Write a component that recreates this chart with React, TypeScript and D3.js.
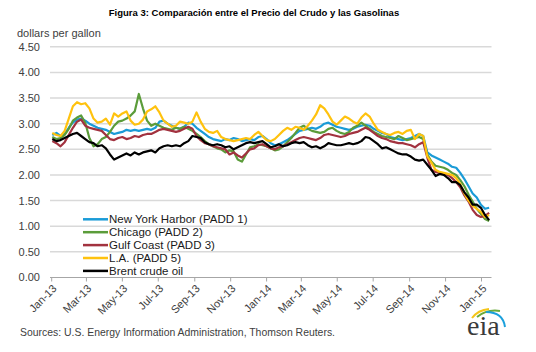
import React, { useEffect, useRef } from 'react';
import * as d3 from 'd3';

// weekly spot prices, dollars per gallon, starting Jan 2 2013
const nyHarbor = [
  2.78, 2.82, 2.76, 2.80, 2.92, 3.02, 3.08, 3.10, 3.06, 3.00, 2.96, 2.92, 2.90, 2.88, 2.84, 2.80, 2.82, 2.84, 2.88, 2.86,
  2.88, 2.86, 2.88, 2.90, 2.88, 2.92, 3.04, 3.06, 3.00, 2.96, 2.92, 2.90, 2.94, 3.02, 3.00, 2.92, 2.86, 2.80, 2.74, 2.70,
  2.68, 2.66, 2.70, 2.68, 2.72, 2.70, 2.66, 2.68, 2.70, 2.68, 2.74, 2.76, 2.70, 2.62, 2.58, 2.60, 2.64, 2.68, 2.74, 2.80,
  2.86, 2.88, 2.90, 2.92, 2.90, 2.94, 3.00, 3.02, 2.98, 2.94, 2.92, 2.90, 2.88, 2.90, 2.94, 2.96, 2.98, 2.96, 2.90, 2.86,
  2.82, 2.80, 2.74, 2.72, 2.70, 2.68, 2.70, 2.72, 2.76, 2.80, 2.76, 2.44, 2.38, 2.34, 2.30, 2.26, 2.22, 2.16, 2.14, 2.04,
  1.92, 1.78, 1.64, 1.56, 1.42, 1.34, 1.36,
];
const chicago = [
  2.74, 2.70, 2.72, 2.78, 2.90, 3.06, 3.12, 3.16, 3.02, 2.72, 2.56, 2.60, 2.70, 2.74, 2.84, 2.96, 3.04, 3.06, 3.10, 3.16,
  3.24, 3.58, 3.30, 3.06, 2.96, 3.00, 2.96, 2.92, 2.90, 2.88, 2.92, 2.90, 2.94, 2.90, 2.86, 2.80, 2.74, 2.66, 2.60, 2.56,
  2.52, 2.50, 2.44, 2.48, 2.46, 2.30, 2.26, 2.40, 2.54, 2.56, 2.60, 2.58, 2.56, 2.52, 2.48, 2.50, 2.56, 2.64, 2.72, 2.82,
  2.92, 2.96, 2.90, 2.86, 2.84, 2.82, 2.84, 2.90, 2.92, 2.86, 2.82, 2.80, 2.84, 2.92, 2.96, 3.02, 2.96, 2.90, 2.84, 2.80,
  2.76, 2.74, 2.72, 2.70, 2.76, 2.72, 2.68, 2.70, 2.72, 2.74, 2.70, 2.40, 2.26, 2.18, 2.16, 2.14, 2.10, 2.04, 2.00, 1.90,
  1.78, 1.62, 1.48, 1.34, 1.24, 1.14, 1.10,
];
const gulfCoast = [
  2.66, 2.62, 2.56, 2.64, 2.78, 2.92, 3.04, 3.08, 2.96, 2.92, 2.90, 2.88, 2.86, 2.78, 2.70, 2.68, 2.72, 2.74, 2.70, 2.72,
  2.76, 2.74, 2.78, 2.80, 2.80, 2.84, 2.88, 2.90, 2.88, 2.86, 2.84, 2.86, 2.90, 2.94, 2.90, 2.76, 2.68, 2.62, 2.60, 2.56,
  2.54, 2.52, 2.50, 2.40, 2.44, 2.38, 2.34, 2.42, 2.50, 2.52, 2.58, 2.60, 2.56, 2.52, 2.50, 2.54, 2.56, 2.60, 2.64, 2.68,
  2.72, 2.74, 2.72, 2.70, 2.68, 2.72, 2.78, 2.80, 2.78, 2.76, 2.74, 2.76, 2.80, 2.82, 2.84, 2.88, 2.92, 2.88, 2.82, 2.76,
  2.72, 2.70, 2.66, 2.64, 2.62, 2.62, 2.60, 2.58, 2.54, 2.60, 2.64, 2.34, 2.10, 2.06, 2.04, 2.02, 2.00, 1.94, 1.86, 1.76,
  1.60, 1.48, 1.32, 1.22, 1.18, 1.20, 1.26,
];
const losAngeles = [
  2.82, 2.78, 2.76, 2.86, 3.10, 3.34, 3.42, 3.38, 3.40, 3.30, 3.10, 3.02, 3.04, 3.10, 2.98, 3.20, 3.14, 3.20, 3.24, 3.06,
  2.98, 3.00, 3.08, 3.24, 3.28, 3.34, 3.22, 3.06, 3.00, 2.94, 2.96, 3.04, 3.02, 3.00, 3.04, 3.22, 3.04, 2.90, 2.84, 2.82,
  2.86, 2.74, 2.70, 2.68, 2.66, 2.68, 2.70, 2.72, 2.70, 2.78, 2.84, 2.76, 2.68, 2.66, 2.70, 2.78, 2.86, 2.92, 2.88, 2.94,
  2.92, 2.88, 2.96, 3.06, 3.18, 3.36, 3.30, 3.18, 3.04, 2.98, 3.06, 3.14, 3.10, 3.04, 3.00, 3.12, 3.20, 3.14, 3.00, 2.88,
  2.84, 2.80, 2.78, 2.82, 2.84, 2.80, 2.86, 2.88, 2.70, 2.80, 2.76, 2.36, 2.24, 2.10, 2.06, 2.04, 2.02, 2.00, 1.94, 1.82,
  1.64, 1.50, 1.40, 1.34, 1.28, 1.18, 1.22,
];
const brent = [
  2.70, 2.66, 2.68, 2.72, 2.76, 2.80, 2.82, 2.76, 2.70, 2.64, 2.62, 2.56, 2.58, 2.52, 2.40, 2.30, 2.34, 2.38, 2.42, 2.38,
  2.44, 2.40, 2.44, 2.46, 2.48, 2.44, 2.52, 2.56, 2.58, 2.56, 2.58, 2.56, 2.62, 2.66, 2.76, 2.74, 2.72, 2.64, 2.60, 2.58,
  2.60, 2.58, 2.54, 2.56, 2.50, 2.54, 2.58, 2.62, 2.64, 2.62, 2.64, 2.66, 2.60, 2.54, 2.56, 2.60, 2.56, 2.58, 2.62, 2.64,
  2.62, 2.64, 2.58, 2.54, 2.56, 2.52, 2.56, 2.62, 2.60, 2.58, 2.58, 2.60, 2.62, 2.60, 2.62, 2.66, 2.74, 2.72, 2.66, 2.60,
  2.52, 2.54, 2.50, 2.46, 2.42, 2.40, 2.40, 2.36, 2.30, 2.28, 2.30, 2.20, 2.10, 1.98, 2.02, 2.00, 1.94, 1.86, 1.86, 1.80,
  1.66, 1.56, 1.42, 1.42, 1.36, 1.22, 1.12,
];

const seriesNames = ['New York Harbor (PADD 1)', 'Chicago (PADD 2)', 'Gulf Coast (PADD 3)', 'L.A. (PADD 5)', 'Brent crude oil'];
const seriesColors = ['#1a9bd7', '#5b9c3a', '#a2323f', '#ffc20e', '#000000'];
const yTicks = [0, 0.5, 1, 1.5, 2, 2.5, 3, 3.5, 4, 4.5];

const FONT = '"Liberation Sans", Arial, sans-serif';
const TEXT = '#404040';

const App = () => {
  const chartRef = useRef(null);

  useEffect(() => {
    const width = 536;
    const height = 352;
    const left = 50;
    const right = 491.5;

    const allSeries = [nyHarbor, chicago, gulfCoast, losAngeles, brent];
    const start = new Date(2013, 0, 2);
    const dates = nyHarbor.map((_, i) => d3.timeDay.offset(start, i * 7));

    const x = d3.scaleTime()
      .domain([new Date(2013, 0, 1), new Date(2015, 0, 18)])
      .range([51.7, right]);
    const y = d3.scaleLinear().domain([0, 4.5]).range([277.5, 46.8]);

    const svg = d3.select(chartRef.current)
      .append('svg')
      .attr('width', width)
      .attr('height', height)
      .style('position', 'absolute')
      .style('left', 0)
      .style('top', 0)
      .style('background', '#fff');

    // title
    svg.append('text')
      .attr('x', 254)
      .attr('y', 16)
      .attr('text-anchor', 'middle')
      .style('font-family', FONT)
      .style('font-size', '9.5px')
      .style('font-weight', 'bold')
      .attr('fill', '#000')
      .text('Figura 3: Comparación entre el Precio del Crudo y las Gasolinas');

    svg.append('text')
      .attr('x', 17)
      .attr('y', 37)
      .style('font-family', FONT)
      .style('font-size', '11px')
      .attr('fill', TEXT)
      .text('dollars per gallon');

    // gridlines + y labels
    svg.append('g')
      .selectAll('line')
      .data(yTicks.filter(d => d > 0))
      .join('line')
      .attr('x1', left)
      .attr('x2', right)
      .attr('y1', d => y(d))
      .attr('y2', d => y(d))
      .attr('stroke', '#d9d9d9')
      .attr('stroke-width', 1.5);

    svg.append('g')
      .selectAll('text')
      .data(yTicks)
      .join('text')
      .attr('x', 40)
      .attr('y', d => y(d))
      .attr('dy', '0.36em')
      .attr('text-anchor', 'end')
      .style('font-family', FONT)
      .style('font-size', '11px')
      .attr('fill', TEXT)
      .text(d => d3.format('.2f')(d));

    // x axis
    svg.append('line')
      .attr('x1', left)
      .attr('x2', right)
      .attr('y1', y(0))
      .attr('y2', y(0))
      .attr('stroke', '#a6a6a6')
      .attr('stroke-width', 1);

    const xTicks = d3.timeMonth.every(2).range(new Date(2013, 0, 1), new Date(2015, 0, 2));
    const fmt = d3.timeFormat('%b-%y');
    const tg = svg.append('g')
      .selectAll('g')
      .data(xTicks)
      .join('g')
      .attr('transform', d => `translate(${x(d)},${y(0)})`);
    tg.append('line')
      .attr('y2', 4)
      .attr('stroke', '#a6a6a6');
    tg.append('text')
      .attr('transform', 'translate(3,9) rotate(-45)')
      .attr('text-anchor', 'end')
      .attr('dy', '0.35em')
      .style('font-family', FONT)
      .style('font-size', '11px')
      .attr('fill', TEXT)
      .text(d => fmt(d));

    // lines
    const line = d3.line()
      .x((d, i) => x(dates[i]))
      .y(d => y(d));

    svg.append('g')
      .selectAll('path')
      .data(allSeries)
      .join('path')
      .attr('d', d => line(d))
      .attr('fill', 'none')
      .attr('stroke', (d, i) => seriesColors[i])
      .attr('stroke-width', 2.2)
      .attr('stroke-linejoin', 'round');

    // legend
    const lg = svg.append('g')
      .selectAll('g')
      .data(seriesNames)
      .join('g')
      .attr('transform', (d, i) => `translate(83,${219.3 + i * 12.9})`);
    lg.append('line')
      .attr('x2', 25)
      .attr('stroke', (d, i) => seriesColors[i])
      .attr('stroke-width', 2.5);
    lg.append('text')
      .attr('x', 26)
      .attr('dy', '0.36em')
      .style('font-family', FONT)
      .style('font-size', '11.5px')
      .attr('fill', '#1a1a1a')
      .text(d => d);

    // source
    svg.append('text')
      .attr('x', 20)
      .attr('y', 336)
      .attr('textLength', 315)
      .attr('lengthAdjust', 'spacingAndGlyphs')
      .style('font-family', FONT)
      .style('font-size', '11px')
      .attr('fill', TEXT)
      .text('Sources: U.S. Energy Information Administration, Thomson Reuters.');

    // eia logo
    const logo = svg.append('g');
    logo.append('path')
      .attr('d', 'M472,318 Q478,310 489,309')
      .attr('fill', 'none')
      .attr('stroke', '#f5c518')
      .attr('stroke-width', 2);
    logo.append('path')
      .attr('d', 'M477,317 Q487,309 500,311')
      .attr('fill', 'none')
      .attr('stroke', '#6aaa3a')
      .attr('stroke-width', 2);
    logo.append('path')
      .attr('d', 'M486,312 Q503,312 505,327')
      .attr('fill', 'none')
      .attr('stroke', '#1ba0dc')
      .attr('stroke-width', 2);
    logo.append('text')
      .attr('x', 467)
      .attr('y', 335)
      .style('font-family', '"Liberation Serif", "Times New Roman", serif')
      .style('font-size', '28px')
      .attr('fill', '#3a3a3a')
      .text('eia');

    return () => {
      d3.select(chartRef.current).selectAll('*').remove();
    };
  }, []);

  return <div ref={chartRef}></div>;
};

export default App;
